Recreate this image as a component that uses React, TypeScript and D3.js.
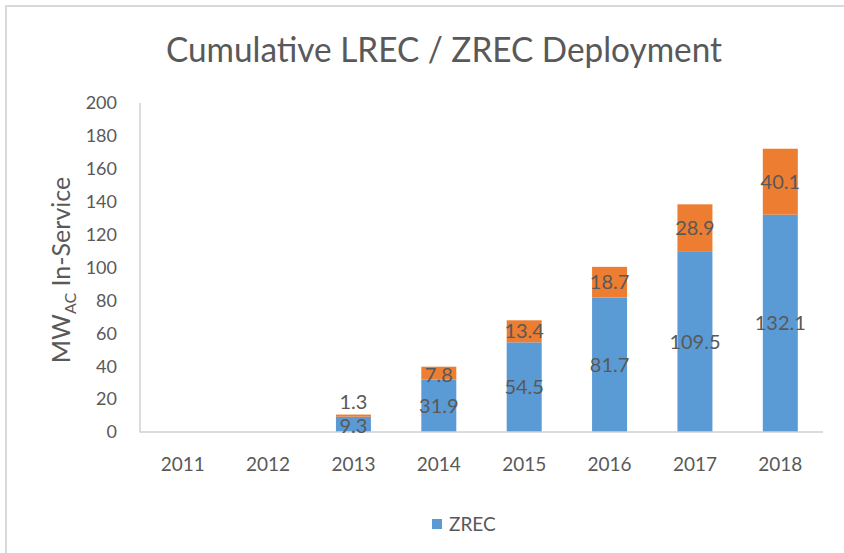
import React from "react";
import * as d3 from "d3";

const years = ["2011", "2012", "2013", "2014", "2015", "2016", "2017", "2018"];
const zrec = [0, 0, 9.3, 31.9, 54.5, 81.7, 109.5, 132.1];
const lrec = [0, 0, 1.3, 7.8, 13.4, 18.7, 28.9, 40.1];
const yTicks = [0, 20, 40, 60, 80, 100, 120, 140, 160, 180, 200];

const W = 844;
const H = 553;
const FONT = "Lato, 'Open Sans', sans-serif";
const TXT = "#595959";

export default function App() {
  const x = d3.scaleBand<string>().domain(years).range([140, 823]).paddingInner(0.59).paddingOuter(0.295);
  const y = d3.scaleLinear().domain([0, 200]).range([432, 103]);

  const stacked = d3.stack<number>().keys(["zrec", "lrec"]).value((i, k) => (k === "zrec" ? zrec[i] : lrec[i]))(
    years.map((_, i) => i)
  );
  const colors = ["#5B9BD5", "#ED7D31"];

  return (
    <svg width={W} height={H} style={{ position: "absolute", left: 0, top: 0, background: "#fff" }} fontFamily={FONT}>
      <rect x={0} y={0} width={W} height={H} fill="#fff" />
      <line x1={6} y1={6} x2={W + 5} y2={6} stroke="#d9d9d9" strokeWidth={2} />
      <line x1={6} y1={5} x2={6} y2={H + 5} stroke="#d9d9d9" strokeWidth={2} />
      <text x={444} y={62} textAnchor="middle" fontSize={34} fill={TXT} textLength={556} lengthAdjust="spacingAndGlyphs">
        Cumulative LREC / ZREC Deployment
      </text>
      {yTicks.map((t) => (
        <text key={t} x={117} y={y(t)} dy="0.35em" textAnchor="end" fontSize={18} fill={TXT}>
          {t}
        </text>
      ))}
      <text transform={`translate(70,270) rotate(-90)`} textAnchor="middle" fontSize={25} fill={TXT}>
        MW<tspan fontSize={16} dy={6}>AC</tspan>
        <tspan dy={-6}> In-Service</tspan>
      </text>
      {stacked.map((s, si) =>
        s.map((d, i) => {
          const h = y(d[0]) - y(d[1]);
          if (h <= 0) return null;
          return (
            <rect key={`${si}-${i}`} x={x(years[i])} y={y(d[1])} width={x.bandwidth()} height={h} fill={colors[si]} />
          );
        })
      )}
      <line x1={140} y1={103} x2={140} y2={432.5} stroke="#d0d0d0" strokeWidth={1.5} />
      <line x1={140} y1={432} x2={823} y2={432} stroke="#d0d0d0" strokeWidth={1.5} />
      {stacked.map((s, si) =>
        s.map((d, i) => {
          const v = si === 0 ? zrec[i] : lrec[i];
          if (v <= 0) return null;
          const segH = y(d[0]) - y(d[1]);
          const cy = segH < 12 && si > 0 ? y(d[1]) - 13 : y((d[0] + d[1]) / 2) + (segH < 20 ? 2 : 0);
          return (
            <text
              key={`l${si}-${i}`}
              x={(x(years[i]) as number) + x.bandwidth() / 2}
              y={cy}
              dy="0.35em"
              textAnchor="middle"
              fontSize={20}
              fill={TXT}
            >
              {v}
            </text>
          );
        })
      )}
      {years.map((yr) => (
        <text key={yr} x={(x(yr) as number) + x.bandwidth() / 2} y={464} dy="0.35em" textAnchor="middle" fontSize={19} fill={TXT}>
          {yr}
        </text>
      ))}
      <rect x={432} y={519} width={10} height={10} fill="#5B9BD5" />
      <text x={449} y={524} dy="0.35em" fontSize={19} fill={TXT}>
        ZREC
      </text>
    </svg>
  );
}
